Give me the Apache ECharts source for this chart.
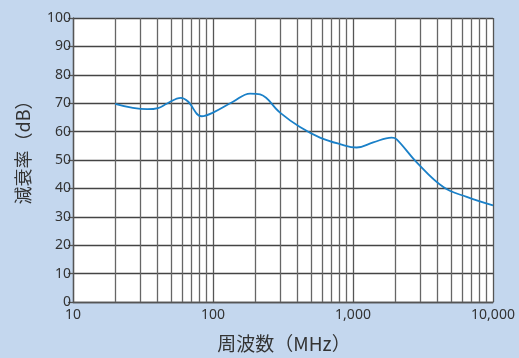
<!DOCTYPE html>
<html>
<head>
<meta charset="utf-8">
<script src="https://cdn.jsdelivr.net/npm/echarts@6/dist/echarts.min.js"></script>
<style>
  html, body { margin: 0; padding: 0; background: #c4d7ee; }
  #chart { width: 519px; height: 358px; }
</style>
</head>
<body>
<div id="chart"></div>
<script>
// Attenuation vs. frequency
const frequencies = [20, 34, 40.5, 46.7, 59, 66, 83, 100, 139, 184, 217, 301, 418, 581, 807, 1062, 1395, 1888, 2051, 2851, 4416, 6488, 10000];
const attenuation = [69.8, 67.9, 68.3, 69.8, 71.9, 70.7, 65.4, 66.7, 70.5, 73.4, 73.1, 66.7, 61.6, 57.9, 55.6, 54.4, 56.2, 57.9, 57.3, 49.2, 40.5, 37.0, 34.0];
const minorFreqs = [20, 30, 40, 50, 60, 70, 80, 90, 200, 300, 400, 500, 600, 700, 800, 900, 2000, 3000, 4000, 5000, 6000, 7000, 8000, 9000];
const yTicks = { min: 0, max: 100, step: 10 };

const gridColor = '#555';
const textColor = '#333';
const fontFamily = '"Noto Sans", "Noto Sans CJK JP", sans-serif';

const chart = echarts.init(document.getElementById('chart'), null, { renderer: 'canvas' });
chart.setOption({
  backgroundColor: '#c4d7ee',
  animation: false,
  grid: { left: 73, right: 26, top: 18, bottom: 54, backgroundColor: '#fff', show: true, borderWidth: 0 },
  xAxis: {
    type: 'log',
    logBase: 10,
    min: 10,
    max: 10000,
    name: '周波数（MHz）',
    nameLocation: 'middle',
    nameGap: 32,
    nameTextStyle: { fontSize: 19, color: textColor, fontFamily: '"Noto Sans CJK JP", sans-serif', padding: [0, 0, 0, 2] },
    axisLine: { show: true, lineStyle: { color: gridColor, width: 1.3 } },
    axisTick: { show: false },
    axisLabel: {
      fontSize: 14, color: textColor, fontFamily: fontFamily, margin: 6,
      formatter: v => Math.round(v).toLocaleString('en-US')
    },
    splitLine: { show: true, lineStyle: { color: gridColor, width: 1.3 } }
  },
  yAxis: {
    type: 'value',
    min: yTicks.min,
    max: yTicks.max,
    interval: yTicks.step,
    name: '減衰率（dB）',
    nameLocation: 'middle',
    nameRotate: 90,
    nameGap: 41,
    nameTextStyle: { fontSize: 18, color: textColor, fontFamily: '"Noto Sans CJK JP", sans-serif', padding: [0, 0, 0, 24] },
    axisLine: { show: true, lineStyle: { color: gridColor, width: 1.3 } },
    axisTick: { show: true, length: 5, lineStyle: { color: gridColor, width: 1.3 } },
    axisLabel: { fontSize: 14, color: textColor, fontFamily: fontFamily, margin: 2 },
    splitLine: { show: true, lineStyle: { color: '#444', width: 1.3 } }
  },
  series: [{
    type: 'line',
    data: frequencies.map((f, i) => [f, attenuation[i]]),
    smooth: 0.4,
    showSymbol: false,
    lineStyle: { color: '#1a80c8', width: 1.8 },
    z: 5,
    markLine: {
      silent: true,
      symbol: ['none', 'none'],
      label: { show: false },
      lineStyle: { color: '#666', width: 1.3, type: 'solid' },
      data: minorFreqs.map(f => ({ xAxis: f }))
    }
  }]
});
</script>
</body>
</html>
